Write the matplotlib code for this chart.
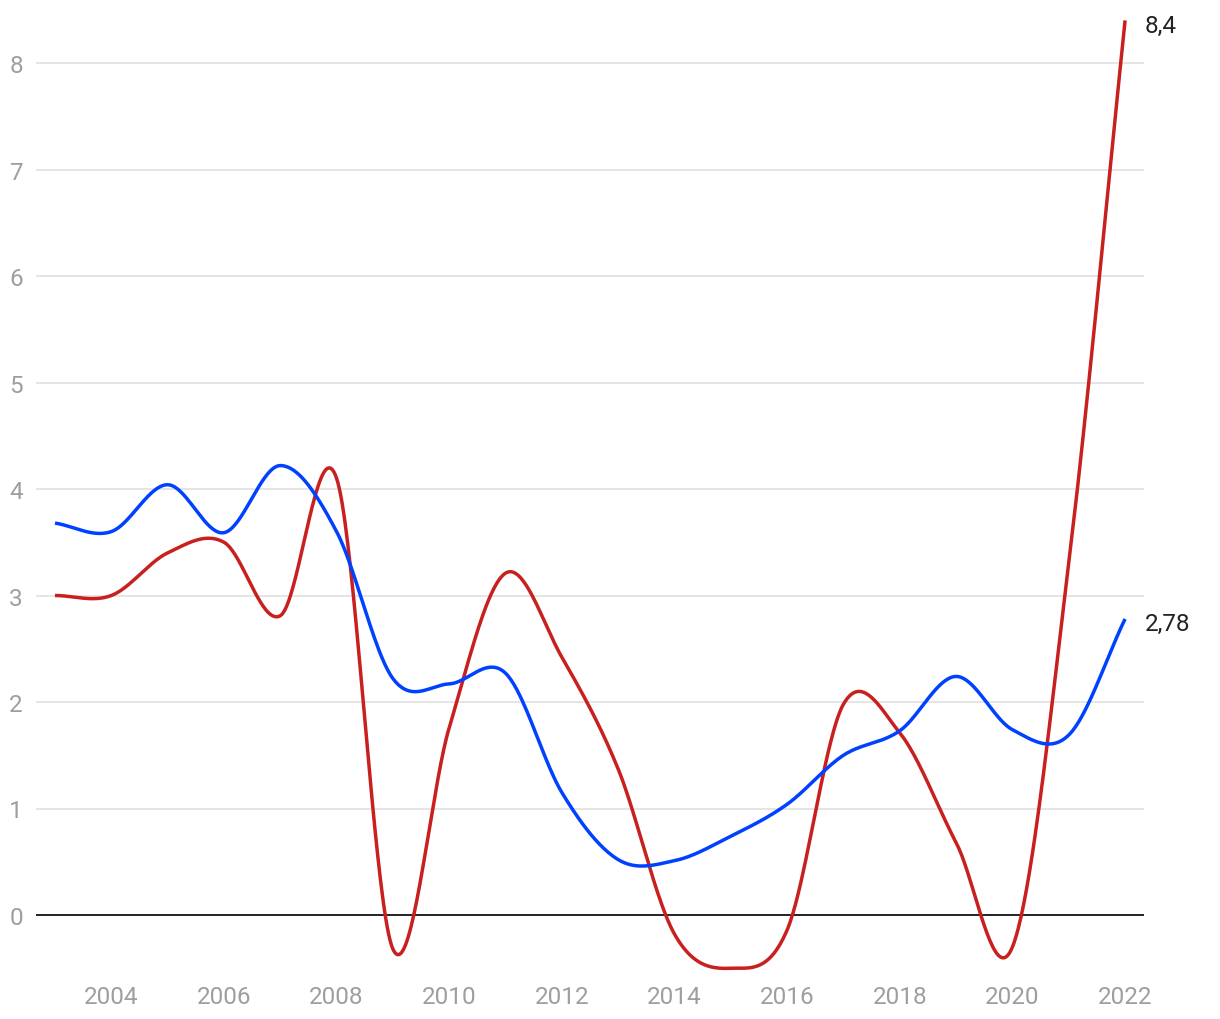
import numpy as np
import matplotlib
matplotlib.use("Agg")
import matplotlib.pyplot as plt

plt.rcParams['font.family'] = ['Roboto', 'DejaVu Sans']

years = list(range(2003, 2023))
red_values = [3.0, 3.0, 3.4, 3.5, 2.81, 4.1, -0.32, 1.76, 3.21, 2.42,
              1.37, -0.18, -0.5, -0.14, 1.98, 1.71, 0.68, -0.3, 3.3, 8.4]
blue_values = [3.68, 3.6, 4.04, 3.59, 4.22, 3.6, 2.22, 2.17, 2.27, 1.15,
               0.52, 0.51, 0.74, 1.04, 1.5, 1.73, 2.24, 1.74, 1.69, 2.78]
y_ticks = [0, 1, 2, 3, 4, 5, 6, 7, 8]
x_ticks = [2004, 2006, 2008, 2010, 2012, 2014, 2016, 2018, 2020, 2022]
end_labels = ["8,4", "2,78"]

RED = "#c8201f"
BLUE = "#0040ff"


def smooth(xs, ys, n=40):
    xs = np.asarray(xs, float)
    ys = np.asarray(ys, float)
    m = np.zeros_like(ys)
    m[1:-1] = (ys[2:] - ys[:-2]) / (xs[2:] - xs[:-2])
    m[0] = (ys[1] - ys[0]) / (xs[1] - xs[0])
    m[-1] = (ys[-1] - ys[-2]) / (xs[-1] - xs[-2])
    out_x, out_y = [], []
    for i in range(len(xs) - 1):
        h = xs[i + 1] - xs[i]
        t = np.linspace(0, 1, n, endpoint=(i == len(xs) - 2))
        h00 = 2 * t**3 - 3 * t**2 + 1
        h10 = t**3 - 2 * t**2 + t
        h01 = -2 * t**3 + 3 * t**2
        h11 = t**3 - t**2
        out_x.append(xs[i] + t * h)
        out_y.append(h00 * ys[i] + h10 * h * m[i] + h01 * ys[i + 1] + h11 * h * m[i + 1])
    return np.concatenate(out_x), np.concatenate(out_y)


W, H = 1220, 1020
fig = plt.figure(figsize=(W / 100, H / 100), dpi=100)
left, right, top, bottom = 36, 1144, 10, 975
ax = fig.add_axes([left / W, 1 - bottom / H, (right - left) / W, (bottom - top) / H])

def px_to_year(px):
    return 2003 + (px - 55) / 56.32

def py_to_val(py):
    return (916 - py) / 106.5

ax.set_xlim(px_to_year(left), px_to_year(right))
ax.set_ylim(py_to_val(bottom), py_to_val(top))

for v in y_ticks:
    if v == 0:
        ax.axhline(0, color="#111111", lw=1.3, zorder=3)
    else:
        ax.axhline(v, color="#e3e3e3", lw=1.3, zorder=1)

sx, sy = smooth(years, red_values)
ax.plot(sx, sy, color=RED, lw=2.5, solid_capstyle="butt", zorder=4)
bx, by = smooth(years, blue_values)
ax.plot(bx, by, color=BLUE, lw=2.5, solid_capstyle="butt", zorder=5)

for s in ax.spines.values():
    s.set_visible(False)
ax.set_yticks(y_ticks)
ax.set_yticklabels([str(v) for v in y_ticks])
ax.set_xticks(x_ticks)
ax.set_xticklabels([str(v) for v in x_ticks])
ax.tick_params(axis="both", length=0, labelsize=17.5, labelcolor="#9e9e9e")
ax.tick_params(axis="y", pad=9.5)
ax.tick_params(axis="x", pad=8)

ax.annotate(end_labels[0], xy=(years[-1], red_values[-1]), xytext=(14, -4),
            textcoords="offset points", ha="left", va="center", fontsize=17.5, color="#222222",
            annotation_clip=False)
ax.annotate(end_labels[1], xy=(years[-1], blue_values[-1]), xytext=(14, -3),
            textcoords="offset points", ha="left", va="center", fontsize=17.5, color="#222222",
            annotation_clip=False)

fig.savefig("out.png", dpi=100)
